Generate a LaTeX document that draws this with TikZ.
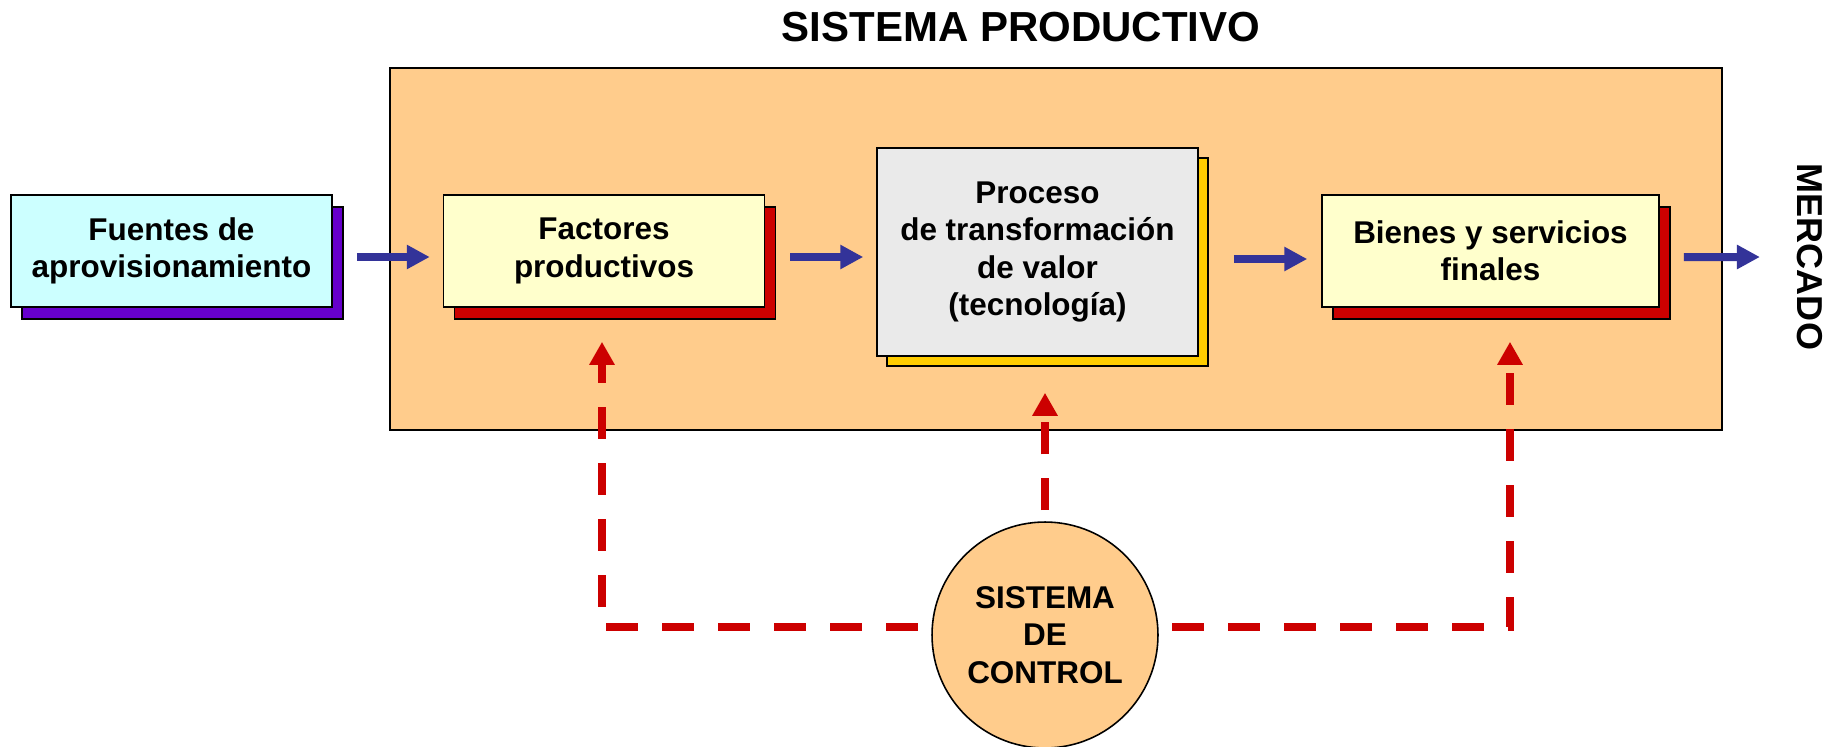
\documentclass[tikz,border=0pt]{standalone}
\usepackage{fontspec}
\setmainfont{Liberation Sans}
\usetikzlibrary{positioning, arrows.meta, calc, shadows}

\definecolor{sysorange}{HTML}{FFCC8C}
\definecolor{srccyan}{HTML}{CCFFFF}
\definecolor{paleyellow}{HTML}{FFFFCC}
\definecolor{procgray}{HTML}{EAEAEA}
\definecolor{shadepurple}{HTML}{6600CC}
\definecolor{shadered}{HTML}{CC0000}
\definecolor{shadegold}{HTML}{FFCC00}
\definecolor{flowblue}{HTML}{333399}
\definecolor{ctrlred}{HTML}{CC0000}

\begin{document}
\begin{tikzpicture}[
  x=0.02cm, y=-0.02cm,
  boxtext/.style={font=\fontsize{17.9}{21.3}\selectfont\bfseries, align=center},
  block/.style={boxtext, draw=black, line width=0.9pt, inner sep=0pt,
    minimum width=6.42cm, minimum height=2.24cm},
  purpleshade/.style={copy shadow={shadow xshift=0.22cm, shadow yshift=-0.24cm,
    fill=shadepurple, draw=black, line width=0.9pt, opacity=1}},
  redshade/.style={copy shadow={shadow xshift=0.22cm, shadow yshift=-0.24cm,
    fill=shadered, draw=black, line width=0.9pt, opacity=1}},
  goldshade/.style={copy shadow={shadow xshift=0.2cm, shadow yshift=-0.2cm,
    fill=shadegold, draw=black, line width=0.9pt, opacity=1}},
  flow/.style={draw=flowblue, line width=0.16cm,
    -{Triangle[width=0.46cm, length=0.46cm]}},
  ctrl/.style={draw=ctrlred, line width=0.15cm, dash pattern=on 0.64cm off 0.48cm,
    -{Triangle[width=0.48cm, length=0.46cm]}}
]
\useasboundingbox (0,0) rectangle (1836,747);

\node[font=\fontsize{23.9}{28}\selectfont\bfseries] (title) at (1021,27) {SISTEMA PRODUCTIVO};

\node[draw=black, line width=0.8pt, fill=sysorange, minimum width=26.64cm,
  minimum height=7.24cm] (sistema) at (1056,249) {};

\node[block, purpleshade, fill=srccyan] (fuentes) at (171.5,251)
  {Fuentes de\\aprovisionamiento};
\node[block, redshade, fill=paleyellow] (factores) at (604,251)
  {Factores\\productivos};
\node[block, goldshade, fill=procgray, minimum height=4.16cm] (proceso) at (1037.5,252)
  {Proceso\\de transformación\\de valor\\(tecnología)};
\node[block, redshade, fill=paleyellow, minimum width=6.74cm] (bienes) at (1490.5,251)
  {Bienes y servicios\\finales};

\node[font=\fontsize{20.5}{24}\selectfont\bfseries, rotate=-90, inner sep=0pt]
  (mercado) at (1810,257) {MERCADO};

\node[boxtext, circle, draw=black, line width=0.9pt, fill=sysorange,
  minimum size=4.52cm, inner sep=0pt] (control) at (1045,635)
  {SISTEMA\\DE\\CONTROL};

\draw[flow, shorten <=0.48cm, shorten >=0.26cm] ([yshift=-0.12cm]fuentes.east) -- ([yshift=-0.12cm]factores.west);
\draw[flow, shorten <=0.5cm, shorten >=0.26cm] ([yshift=-0.12cm]factores.east) -- ([yshift=-0.12cm]factores.east -| proceso.west);
\draw[flow, shorten <=0.7cm, shorten >=0.28cm] ([yshift=-0.14cm]proceso.east) -- ([yshift=-0.16cm]bienes.west);
\draw[flow, shorten <=0.48cm, shorten >=0.74cm] ([yshift=-0.12cm]bienes.east) -- (mercado.south);

\coordinate (factip) at ($(factores.south)+(-2,34)$);
\coordinate (proctip) at ($(proceso.south)+(0,36)$);
\coordinate (bientip) at ($(bienes.south)+(19.5,34)$);

\draw[ctrl, shorten <=0.28cm] (control.176) -| (factip);
\draw[ctrl, shorten <=0.22cm] (control.north) -- (control.north |- proctip);
\draw[ctrl, shorten <=0.28cm] (control.4) -| (bientip);

\end{tikzpicture}
\end{document}
